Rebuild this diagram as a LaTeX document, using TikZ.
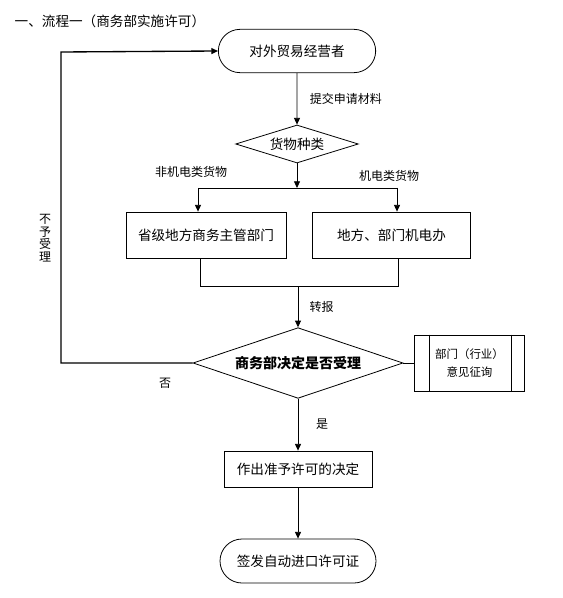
\documentclass[tikz,border=0pt]{standalone}
\usepackage{fontspec}
\setmainfont{Noto Sans CJK SC}
\usetikzlibrary{shapes.geometric,shapes.misc,arrows.meta,positioning}

\begin{document}
\begin{tikzpicture}[x=0.75pt,y=-0.75pt,font=\fontsize{10.2}{12}\selectfont,
  bloc/.style={rectangle,draw,line width=0.6pt,inner sep=0pt,minimum height=34.5pt},
  borne/.style={rounded rectangle,draw,line width=0.6pt,inner sep=0pt,
                minimum width=118pt,minimum height=32.5pt},
  losange/.style={diamond,draw,line width=0.6pt,inner sep=0pt},
  fleche/.style={-{Triangle[length=5pt,width=4.5pt]},line width=0.6pt},
  etiq/.style={font=\fontsize{9}{11}\selectfont}]

  \useasboundingbox (0,0) rectangle (562,598);

  \node[anchor=west] (T) at (10,21) {一、流程一（商务部实施许可）};

  % noeuds
  \node[borne] (Jyz) at (297,51) {对外贸易经营者};
  \node[losange,minimum width=92pt,minimum height=28.5pt,aspect=3.2] (Zl) at (297,144) {货物种类};
  \node[bloc,minimum width=120pt] (Sj) at (206,235) {省级地方商务主管部门};
  \node[bloc,minimum width=118pt] (Jd) at (391.5,235) {地方、部门机电办};
  \node[losange,minimum width=157.5pt,minimum height=53pt,aspect=3,
        font=\fontsize{10.5}{12}\selectfont\bfseries] (Jc) at (298,363) {商务部决定是否受理};
  \node[bloc,minimum width=82pt,minimum height=42pt,align=center,
        font=\fontsize{8.6}{14}\selectfont] (Yj) at (469.5,363) {部门（行业）\\意见征询};
  \node[bloc,minimum width=111pt,minimum height=27pt] (Zc) at (298,469) {作出准予许可的决定};
  \node[borne,minimum width=117pt,minimum height=33pt] (Qf) at (298,561) {签发自动进口许可证};

  \draw[line width=0.6pt] ([xshift=11pt]Yj.north west) -- ([xshift=11pt]Yj.south west);
  \draw[line width=0.6pt] ([xshift=-10pt]Yj.north east) -- ([xshift=-10pt]Yj.south east);

  \coordinate (Fg) at (198,188);
  \coordinate (Fd) at (397,188);
  \coordinate (Hg) at (200,286);
  \coordinate (Hd) at (398,286);
  \coordinate (Rt) at (61,52);

  % liaisons
  \draw[fleche] (Jyz) -- (Zl) node[midway,right=6pt,etiq] {提交申请材料};
  \draw[fleche] (Zl) -- (Zl.south |- Fg);
  \draw[line width=0.6pt] (Fg) -- (Fd);
  \draw[fleche] (Fg) -- (Fg |- Sj.north);
  \draw[fleche] (Fd) -- (Fd |- Jd.north);
  \node[etiq] (Lg) at (191,172) {非机电类货物};
  \node[etiq] (Ld) at (389,176) {机电类货物};

  \draw[line width=0.6pt] (Sj.south -| Hg) -- (Hg) -- (Hd) -- (Jd.south -| Hd);
  \draw[fleche] (Hg -| Jc.north) -- (Jc.north) node[midway,right=5pt,etiq] {转报};
  \draw[line width=0.6pt] (Jc.east) -- (Yj.west);
  \draw[fleche] (Jc) -- (Zc) node[midway,right=10pt,etiq] {是};
  \draw[fleche] (Zc) -- (Qf);

  \draw[fleche,line width=1pt] (Jc.west) -- (Jc.west -| Rt) -- (Rt) -- (Jyz.west);
  \node[etiq] (No) at (165,383) {否};
  \node[align=center,font=\fontsize{9}{9.4}\selectfont] (Bs) at (45,238) {不\\予\\受\\理};
\end{tikzpicture}
\end{document}
